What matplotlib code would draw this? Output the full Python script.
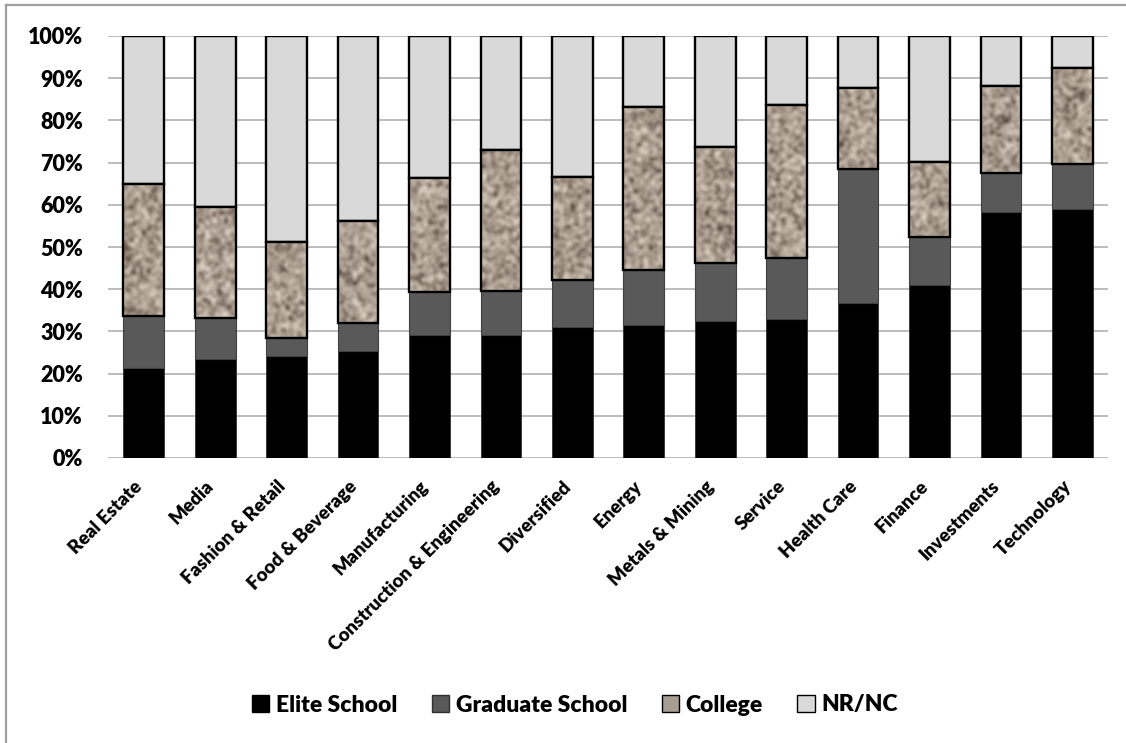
import numpy as np
import matplotlib.pyplot as plt
import matplotlib.transforms as mtransforms
from matplotlib.patches import Patch
from matplotlib.lines import Line2D
from matplotlib.colors import LinearSegmentedColormap

plt.rcParams['font.family'] = ['Lato', 'DejaVu Sans']
plt.rcParams['font.weight'] = 'bold'

sectors = ['Real Estate', 'Media', 'Fashion & Retail', 'Food & Beverage',
           'Manufacturing', 'Construction & Engineering', 'Diversified',
           'Energy', 'Metals & Mining', 'Service', 'Health Care', 'Finance',
           'Investments', 'Technology']

# shares in percent, stacked bottom to top
elite = [21.4, 23.5, 24.2, 25.4, 29.1, 29.1, 31.1, 31.4, 32.5, 32.9, 36.8, 41.0, 58.4, 59.1]
graduate = [12.2, 9.7, 4.2, 6.7, 10.3, 10.5, 11.1, 13.1, 13.6, 14.4, 31.7, 11.4, 9.1, 10.6]
college = [31.3, 26.2, 22.9, 24.0, 27.0, 33.4, 24.5, 38.6, 27.5, 36.3, 19.1, 17.8, 20.7, 22.8]
nrnc = [100 - e - g - c for e, g, c in zip(elite, graduate, college)]

W, H = 1126, 743
fig = plt.figure(figsize=(W / 100, H / 100), dpi=100)
ax = fig.add_axes([108 / W, 1 - 458 / H, 1000 / W, 422 / H])

x = np.arange(len(sectors))
bw = 0.57
e = np.array(elite) / 100
g = np.array(graduate) / 100
c = np.array(college) / 100
n = np.array(nrnc) / 100

ax.bar(x, e, bw, color='black', edgecolor='#303030', linewidth=0.6, zorder=3)
ax.bar(x, g, bw, bottom=e, color='#595959', edgecolor='#404040', linewidth=0.8, zorder=3)
cbars = ax.bar(x, c, bw, bottom=e + g, color='#a89d92', edgecolor='none', zorder=3)
ax.bar(x, c, bw, bottom=e + g, color='none', edgecolor='black', linewidth=1.7, zorder=5)
ax.bar(x, n, bw, bottom=e + g + c, color='#d9d9d9', edgecolor='black', linewidth=1.7, zorder=3)

# granite-like fill for the college segments
rng = np.random.default_rng(7)
tex = rng.random((180, 430))
k = np.fft.fft2(np.ones((2, 2)) / 4.0, tex.shape)
tex = np.real(np.fft.ifft2(np.fft.fft2(tex) * k))
tex = (tex - tex.min()) / (tex.max() - tex.min())
granite = LinearSegmentedColormap.from_list(
    'granite', ['#38291e', '#74645a', '#9e9083', '#b9ad9f', '#d4c9bc', '#eee6dc'])
for b in cbars:
    im = ax.imshow(tex, cmap=granite, extent=(-0.5, 13.5, 0, 1), aspect='auto',
                   interpolation='bicubic', zorder=4)
    im.set_clip_path(b)

ax.set_xlim(-0.5, 13.5)
ax.set_ylim(0, 1)
ax.set_yticks(np.arange(0, 1.01, 0.1))
ax.set_yticklabels(['%d%%' % v for v in range(0, 101, 10)], fontsize=15.5, fontweight='heavy')
ax.yaxis.grid(True, color='#aaaaaa', linewidth=1.1, zorder=0)
ax.set_axisbelow(True)
ax.tick_params(axis='y', length=0, pad=18)
ax.tick_params(axis='x', length=0, pad=14)
ax.set_xticks(x)
ax.set_xticklabels(sectors, rotation=45, ha='right', rotation_mode='anchor',
                   fontsize=13.5, fontweight='heavy')
shift = mtransforms.ScaledTranslation(-10 / 100, 0, fig.dpi_scale_trans)
for lbl in ax.get_xticklabels():
    lbl.set_transform(lbl.get_transform() + shift)
for s in ax.spines.values():
    s.set_visible(False)

handles = [Patch(facecolor='black', edgecolor='black'),
           Patch(facecolor='#595959', edgecolor='#303030'),
           Patch(facecolor='#a89d92', edgecolor='black'),
           Patch(facecolor='#d9d9d9', edgecolor='black')]
fig.legend(handles, ['Elite School', 'Graduate School', 'College', 'NR/NC'],
           loc='center', bbox_to_anchor=(575 / W, 1 - 705 / H), ncol=4,
           frameon=False, prop={'size': 16.5, 'weight': 'heavy'},
           handlelength=0.75, handleheight=0.75, handletextpad=0.3, columnspacing=1.5)

# outer frame
fig.add_artist(Line2D([6 / W, 6 / W], [0, 1 - 5 / H], color='#a0a0a0', linewidth=1.6))
fig.add_artist(Line2D([6 / W, 1], [1 - 5 / H, 1 - 5 / H], color='#a0a0a0', linewidth=1.6))

fig.savefig('out.png', dpi=100)
